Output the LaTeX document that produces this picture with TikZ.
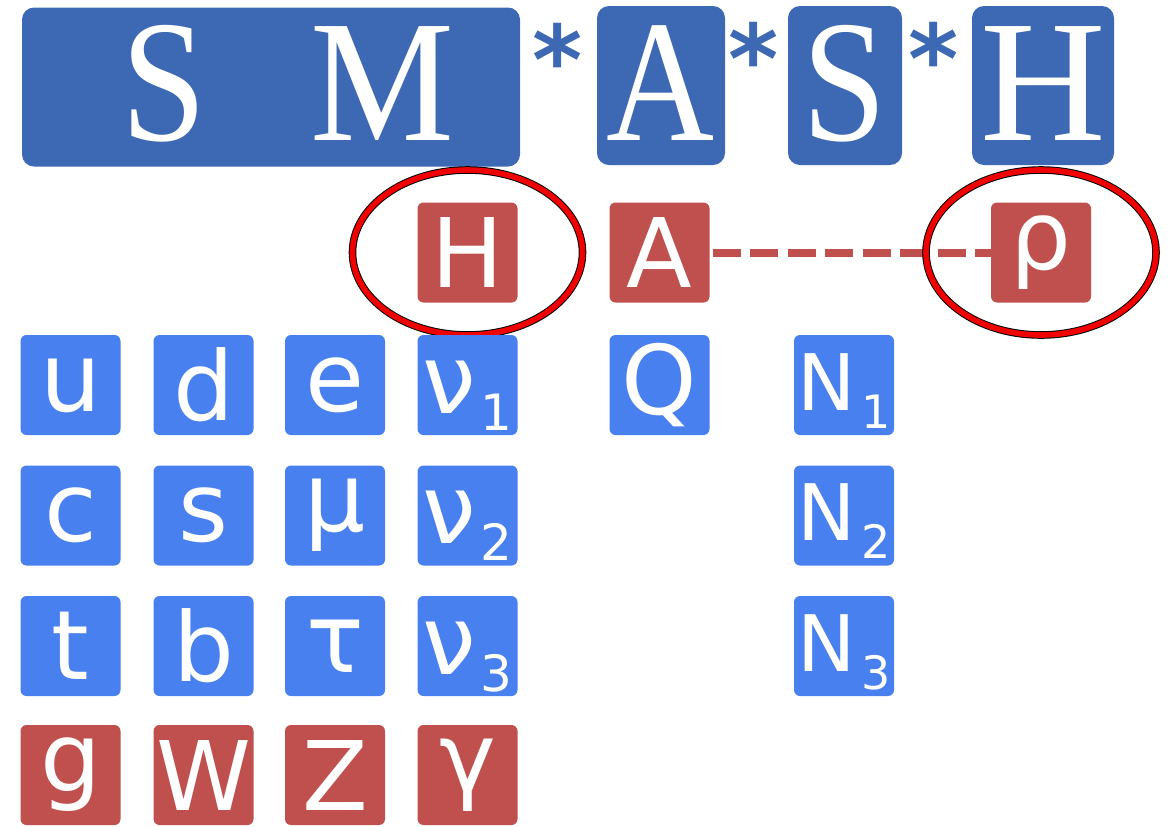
\documentclass[tikz,border=0pt]{standalone}
\usepackage{fontspec}
\setmainfont{Liberation Serif}
\newfontfamily\djs{DejaVu Sans}
\usetikzlibrary{shapes.geometric}
\definecolor{topblue}{RGB}{61,105,180}
\definecolor{lblue}{RGB}{72,128,240}
\definecolor{pred}{RGB}{192,80,77}
\definecolor{ringred}{RGB}{240,0,0}
\newcommand{\nusub}[1]{ν\kern2.5pt\raisebox{-8.5pt}{\fontsize{25pt}{25pt}\selectfont #1}}
\newcommand{\Nsub}[1]{{\fontsize{39pt}{39pt}\selectfont N}\kern3pt\raisebox{-9pt}{\fontsize{23pt}{23pt}\selectfont #1}}
\newcommand{\sq}[2]{\scalebox{#1}[1]{#2}}
\begin{document}
\begin{tikzpicture}[x=0.5pt,y=-0.5pt,
  topbox/.style={fill=topblue, rounded corners=6pt, inner sep=0pt, text=white,
    font=\fontsize{87pt}{87pt}\selectfont, text height=54.5pt, text depth=0pt, minimum height=79.5pt},
  toplabel/.style={text=white, inner sep=0pt, anchor=base, font=\fontsize{87pt}{87pt}\selectfont},
  pbox/.style={rounded corners=3pt, inner sep=0pt, minimum width=50pt, minimum height=50pt,
    text=white, font=\djs\fontsize{48pt}{48pt}\selectfont},
  fbox/.style={pbox, fill=lblue},
  bbox/.style={pbox, fill=pred},
  nubox/.style={fbox, text height=28pt, text depth=0pt},
  Nbox/.style={fbox, text height=25pt, text depth=0pt},
  asterisk/.style={text=topblue, font=\djs\bfseries\fontsize{48pt}{48pt}\selectfont, inner sep=0pt, anchor=base},
  ring/.style={ellipse, draw=black, line width=0.5pt, double=ringred, double distance=2.8pt,
    minimum width=115pt, minimum height=82.5pt, inner sep=0pt},
  dashlink/.style={draw=pred, line width=4pt, dash pattern=on 14pt off 4.75pt, dash phase=17.4pt}
]
\useasboundingbox (0,0) rectangle (1173,826);
% top row
\node[topbox, minimum width=249pt] (SM) at (271,87) {};
\node[toplabel] (SMs) at (164,140) {\sq{0.88}{S}};
\node[toplabel] (SMm) at (382,140) {\sq{0.93}{M}};
\node[topbox, minimum width=64pt] (TA) at (661,85.5) {\sq{0.86}{A}};
\node[topbox, minimum width=57pt] (TS) at (845,85.5) {\sq{0.87}{S}};
\node[topbox, minimum width=71pt] (TH) at (1043,85.5) {H};
\node[asterisk] (st1) at (558,94) {*};
\node[asterisk] (st2) at (754,93) {*};
\node[asterisk] (st3) at (934,93) {*};
% red row
\node[bbox] (Hr) at (467.5,252.5) {H};
\node[bbox] (Ar) at (659.5,252.5) {A};
\node[bbox] (rho) at (1041,252.5) {ρ};
\draw[dashlink] (Ar.east) -- (rho.west);
\node[ring] (e1) at (Hr) {};
\node[ring] (e2) at (rho) {};
% fermions
\node[fbox] (u) at (70.5,385) {u};
\node[fbox] (d) at (203.5,385) {d};
\node[fbox] (e) at (335,385) {e};
\node[nubox] (nu1) at (467.5,385) {\nusub{1}};
\node[fbox] (c) at (70.5,515.5) {c};
\node[fbox] (s) at (203.5,515.5) {s};
\node[fbox] (mu) at (335,515.5) {μ};
\node[nubox] (nu2) at (467.5,515.5) {\nusub{2}};
\node[fbox] (t) at (70.5,646) {t};
\node[fbox] (b) at (203.5,646) {b};
\node[fbox] (tau) at (335,646) {τ};
\node[nubox] (nu3) at (467.5,646) {\nusub{3}};
% bosons
\node[bbox] (g) at (70.5,775) {g};
\node[bbox] (W) at (203.5,775) {W};
\node[bbox] (Z) at (335,775) {Z};
\node[bbox] (gam) at (467.5,775) {γ};
% extras
\node[fbox] (Q) at (659.5,385) {Q};
\node[Nbox] (N1) at (844,385) {\Nsub{1}};
\node[Nbox] (N2) at (844,515.5) {\Nsub{2}};
\node[Nbox] (N3) at (844,646) {\Nsub{3}};
\end{tikzpicture}
\end{document}
